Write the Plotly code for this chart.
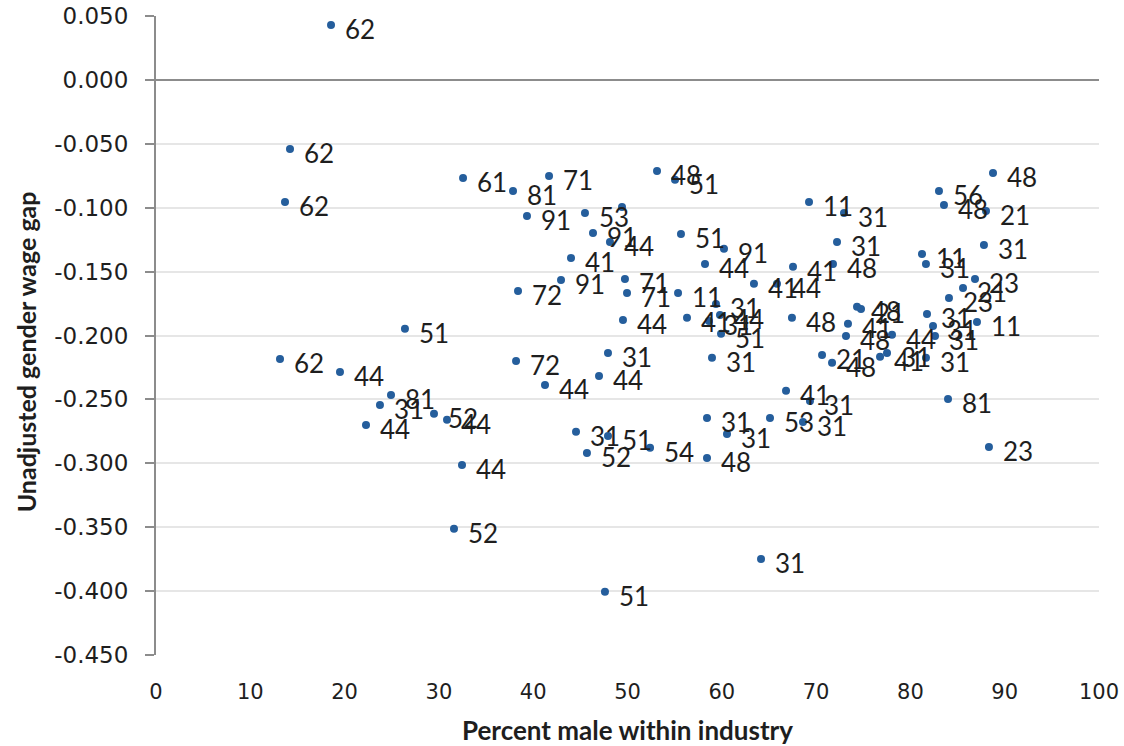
import plotly.graph_objects as go

# Industry observations: share of male workers (%), unadjusted wage gap, industry code label
pct_male = [
    18.56, 14.21, 13.68, 32.56, 37.86, 41.68, 39.34, 13.15, 19.51, 26.40,
    24.92, 23.75, 22.27, 29.48, 30.86, 32.45, 31.60, 38.18, 41.25, 47.93,
    46.98, 44.54, 47.93, 45.70, 52.39, 58.43, 60.55, 58.43, 65.11, 66.81,
    69.35, 68.61, 64.16, 47.61, 53.13, 55.04, 45.49, 49.42, 46.34, 48.14,
    55.67, 60.23, 44.01, 58.22, 42.95, 49.73, 49.95, 55.36, 38.39, 49.52,
    56.31, 58.64, 59.81, 59.92, 59.38, 58.96, 63.41, 65.85, 67.55, 67.44,
    69.25, 72.96, 72.22, 71.79, 74.34, 74.76, 73.38, 73.17, 78.05, 77.52,
    76.78, 70.63, 71.69, 81.76, 82.40, 82.61, 81.65, 84.09, 85.58, 86.85,
    87.06, 83.99, 88.33, 88.76, 83.03, 83.56, 88.02, 87.80, 81.23, 81.65,
]
wage_gap = [
    0.0430, -0.0540, -0.0955, -0.0767, -0.0869, -0.0751, -0.1064, -0.2183, -0.2285, -0.1948,
    -0.2465, -0.2543, -0.2700, -0.2613, -0.2660, -0.3013, -0.3513, -0.2199, -0.2387, -0.2136,
    -0.2316, -0.2754, -0.2786, -0.2919, -0.2879, -0.2645, -0.2770, -0.2958, -0.2645, -0.2433,
    -0.2512, -0.2676, -0.3748, -0.4006, -0.0712, -0.0782, -0.1041, -0.0994, -0.1197, -0.1268,
    -0.1205, -0.1322, -0.1393, -0.1440, -0.1565, -0.1557, -0.1667, -0.1667, -0.1651, -0.1878,
    -0.1862, -0.1886, -0.1839, -0.1987, -0.1753, -0.2175, -0.1596, -0.1596, -0.1463, -0.1862,
    -0.0955, -0.1041, -0.1268, -0.1440, -0.1776, -0.1792, -0.1909, -0.2003, -0.1995, -0.2136,
    -0.2167, -0.2152, -0.2214, -0.1831, -0.1925, -0.2003, -0.2175, -0.1706, -0.1628, -0.1557,
    -0.1894, -0.2496, -0.2872, -0.0728, -0.0869, -0.0978, -0.1025, -0.1291, -0.1362, -0.1440,
]
industry_code = [
    "62", "62", "62", "61", "81", "71", "91", "62", "44", "51",
    "81", "31", "44", "52", "44", "44", "52", "72", "44", "31",
    "44", "31", "51", "52", "54", "31", "31", "48", "53", "41",
    "31", "31", "31", "51", "48", "51", "53", "", "91", "44",
    "51", "91", "41", "44", "91", "71", "71", "11", "72", "44",
    "41", "31", "44", "51", "31", "31", "41", "44", "41", "48",
    "11", "31", "31", "48", "48", "21", "41", "48", "44", "31",
    "41", "21", "48", "31", "31", "31", "31", "23", "21", "23",
    "11", "81", "23", "48", "56", "48", "21", "31", "11", "31",
]

x_ticks = list(range(0, 101, 10))
y_ticks = [0.05 - 0.05 * i for i in range(11)]

TEXT = "#1e1e1e"
AXIS_GREY = "#8c8c8c"

fig = go.Figure(
    go.Scatter(
        x=pct_male,
        y=wage_gap,
        mode="markers",
        marker=dict(size=8, color="#255E9C"),
        cliponaxis=False,
        hoverinfo="skip",
    )
)

# Industry code printed to the right of each point
for xv, yv, code in zip(pct_male, wage_gap, industry_code):
    if not code:
        continue
    fig.add_annotation(
        x=xv, y=yv, text=code, showarrow=False,
        xanchor="left", yanchor="middle", xshift=12, yshift=-4,
        font=dict(family="Lato", size=26, color=TEXT),
    )

# Vertical axis title, placed as a rotated annotation in the left margin
fig.add_annotation(
    xref="paper", yref="paper", x=-0.137, y=0.475,
    xanchor="center", yanchor="middle", textangle=-90, showarrow=False,
    text="<b>Unadjusted gender wage gap</b>",
    font=dict(family="Lato", size=25, color=TEXT),
)

fig.update_layout(
    width=1124,
    height=746,
    margin=dict(l=156, r=25, t=16, b=91),
    paper_bgcolor="white",
    plot_bgcolor="white",
    showlegend=False,
    font=dict(family="Lato", color=TEXT),
)

fig.update_xaxes(
    range=[0, 100],
    tickvals=x_ticks,
    ticktext=[str(v) for v in x_ticks],
    tickfont=dict(family="DejaVu Sans", size=21, color=TEXT),
    showgrid=False,
    zeroline=False,
    showline=False,
    ticks="",
    ticklabelstandoff=22,
    automargin=False,
    title=dict(text="<b>Percent male within industry</b>",
               font=dict(family="Lato", size=26, color=TEXT), standoff=18),
)

fig.update_yaxes(
    range=[-0.45, 0.05],
    tickvals=y_ticks,
    ticktext=[f"{v:.3f}" for v in y_ticks],
    tickfont=dict(family="DejaVu Sans", size=23, color=TEXT),
    showgrid=True,
    gridcolor="#e6e6e6",
    gridwidth=2,
    zeroline=True,
    zerolinecolor=AXIS_GREY,
    zerolinewidth=2,
    showline=True,
    linecolor=AXIS_GREY,
    linewidth=2,
    ticks="outside",
    ticklen=9,
    tickcolor=AXIS_GREY,
    tickwidth=2,
    ticklabelstandoff=12,
    automargin=False,
)

fig.write_html("out.html")
